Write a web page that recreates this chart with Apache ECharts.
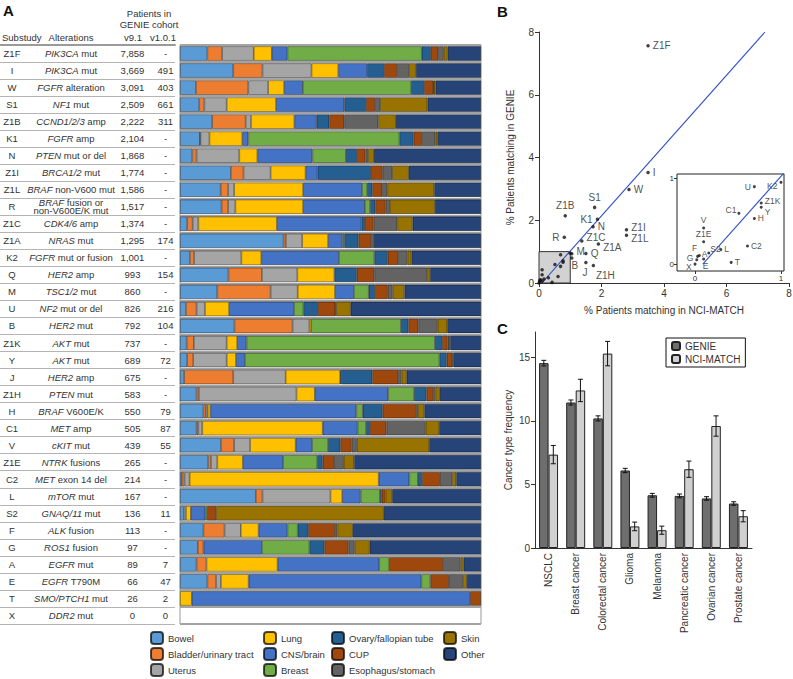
<!DOCTYPE html>
<html>
<head>
<meta charset="utf-8">
<script src="https://cdn.jsdelivr.net/npm/echarts@6/dist/echarts.min.js"></script>
<style>
  html, body { margin: 0; padding: 0; background: #fff; }
  #chart { width: 793px; height: 679px; }
</style>
</head>
<body>
<div id="chart"></div>
<script>
// ---- panel A: substudies ----
var substudies = ['Z1F', 'I', 'W', 'S1', 'Z1B', 'K1', 'N', 'Z1I', 'Z1L', 'R', 'Z1C', 'Z1A', 'K2', 'Q', 'M', 'U', 'B',
  'Z1K', 'Y', 'J', 'Z1H', 'H', 'C1', 'V', 'Z1E', 'C2', 'L', 'S2', 'F', 'G', 'A', 'E', 'T', 'X'];
var alterations = ['{i|PIK3CA} mut', '{i|PIK3CA} mut', '{i|FGFR} alteration', '{i|NF1} mut', '{i|CCND1/2/3} amp',
  '{i|FGFR} amp', '{i|PTEN} mut or del', '{i|BRCA1/2} mut', '{i|BRAF} non-V600 mut', '{i|BRAF} fusion or\nnon-V600E/K mut',
  '{i|CDK4/6} amp', '{i|NRAS} mut', '{i|FGFR} mut or fusion', '{i|HER2} amp', '{i|TSC1/2} mut', '{i|NF2} mut or del',
  '{i|HER2} mut', '{i|AKT} mut', '{i|AKT} mut', '{i|HER2} amp', '{i|PTEN} mut', '{i|BRAF} V600E/K', '{i|MET} amp',
  '{i|cKIT} mut', '{i|NTRK} fusions', '{i|MET} exon 14 del', '{i|mTOR} mut', '{i|GNAQ/11} mut', '{i|ALK} fusion',
  '{i|ROS1} fusion', '{i|EGFR} mut', '{i|EGFR} T790M', '{i|SMO/PTCH1} mut', '{i|DDR2} mut'];
var patientsV91 = [7858, 3669, 3091, 2509, 2222, 2104, 1868, 1774, 1586, 1517, 1374, 1295, 1001, 993, 860, 826, 792,
  737, 689, 675, 583, 550, 505, 439, 265, 214, 167, 136, 113, 97, 89, 66, 26, 0];
var patientsV101 = ['-', 491, 403, 661, 311, '-', '-', '-', '-', '-', '-', 174, '-', 154, '-', 216, 104,
  '-', 72, '-', '-', 79, 87, 55, '-', '-', '-', 11, '-', '-', 7, 47, 2, 0];

// tumour type share (% of matched patients), one array per tissue, rows in substudy order
var tissues = ['Bowel', 'Bladder/urinary tract', 'Uterus', 'Lung', 'CNS/brain', 'Breast',
  'Ovary/fallopian tube', 'CUP', 'Esophagus/stomach', 'Skin', 'Other'];
var bowel = [9.1, 17.7, 5.3, 6.4, 10.7, 6.6, 4.1, 16.9, 13.5, 13.8, 2.4, 34.4, 3.3, 16.1, 12.4, 2.0, 18.1, 2.2, 2.4, 1.4, 5.5, 7.8, 5.5, 13.6, 9.4, 0.6, 25.2, 1.3, 7.8, 5.9, 5.5, 9.1, 0, 0];
var bladder = [4.9, 9.7, 17.4, 1.7, 11.1, 0.2, 1.4, 4.2, 2.5, 2.2, 1.8, 0.8, 1.4, 11.1, 17.7, 3.5, 19.3, 2.4, 2.0, 16.3, 0.8, 0.8, 0.6, 4.4, 0.9, 0.9, 2.2, 0, 7.0, 1.9, 3.3, 2.9, 0, 0];
var uterus = [10.5, 16.3, 6.6, 7.4, 1.8, 3.0, 14.2, 9.0, 2.0, 2.4, 1.9, 5.4, 15.7, 11.8, 9.0, 2.8, 5.6, 10.9, 11.1, 17.4, 32.4, 0.6, 1.3, 5.3, 2.1, 1.7, 22.6, 0.7, 5.4, 0, 0, 1.6, 0, 0];
var lung = [6.0, 8.9, 5.3, 16.4, 14.4, 10.9, 6.0, 11.6, 22.9, 22.5, 26.1, 8.6, 6.6, 12.3, 12.4, 8.0, 0.6, 3.5, 3.1, 18.1, 6.1, 0.9, 40.0, 15.1, 8.5, 62.8, 3.9, 1.6, 5.9, 0, 23.6, 9.2, 3.9, 0];
var cns = [5.2, 9.6, 6.2, 22.7, 7.4, 2.0, 18.3, 4.0, 19.6, 20.5, 28.1, 4.8, 25.8, 0, 6.3, 21.6, 0, 3.1, 3.0, 0.3, 24.4, 48.5, 11.6, 5.5, 13.4, 10.2, 6.1, 4.8, 9.6, 19.4, 33.8, 57.4, 92.5, 0];
var breast = [44.6, 0, 36.0, 0, 0, 50.2, 11.1, 0, 1.7, 1.8, 0, 0.6, 11.8, 0, 4.9, 3.1, 29.8, 62.6, 64.6, 0, 8.6, 2.1, 2.8, 5.3, 11.3, 2.8, 6.4, 0.6, 3.4, 15.8, 3.3, 3.0, 0, 0];
var ovary = [3.0, 5.6, 4.3, 7.2, 4.2, 4.7, 3.7, 17.7, 1.7, 1.7, 1.1, 4.7, 4.4, 7.4, 2.1, 4.8, 2.5, 2.4, 2.4, 10.4, 4.1, 6.6, 1.3, 4.1, 1.8, 1.4, 0.6, 0, 3.5, 5.0, 0, 0, 0, 0];
var cup = [2.5, 4.3, 3.0, 3.0, 5.0, 2.8, 2.8, 3.9, 3.3, 3.4, 2.9, 4.2, 3.5, 5.9, 4.2, 5.8, 3.3, 1.8, 1.9, 8.6, 2.2, 11.1, 5.5, 3.7, 3.7, 5.9, 1.3, 3.0, 8.9, 8.0, 17.9, 6.1, 3.6, 0];
var esophagus = [1.8, 4.0, 0.2, 1.7, 11.3, 4.4, 0.9, 3.2, 1.7, 1.4, 7.9, 0.9, 3.1, 17.4, 1.6, 0.3, 6.4, 0.6, 0, 1.1, 0.8, 0.6, 13.0, 1.7, 3.3, 4.1, 0, 0, 0.8, 2.0, 5.8, 4.7, 0, 0];
var skin = [1.3, 2.3, 0.6, 15.7, 5.8, 0.7, 1.9, 5.5, 15.6, 15.0, 5.1, 0, 1.3, 1.1, 4.0, 4.8, 3.2, 0.3, 0.3, 1.7, 1.4, 2.2, 4.5, 24.1, 3.5, 1.4, 2.2, 55.7, 5.1, 5.0, 1.0, 1.3, 0, 0];
var other = [11.1, 21.6, 15.1, 17.8, 28.3, 14.5, 35.6, 24.0, 15.5, 15.3, 22.7, 35.6, 23.1, 16.9, 25.4, 43.3, 11.2, 10.2, 9.2, 24.7, 13.7, 18.8, 13.9, 17.2, 42.1, 8.2, 29.5, 32.3, 42.6, 37.0, 5.8, 4.7, 0, 0];

// ---- panel B: % patients matching, same order as substudies ----
var matchNci = [3.49, 3.49, 2.88, 1.78, 0.84, 1.87, 1.73, 2.80, 2.80, 0.81, 1.37, 1.90, 1.00, 1.50, 1.05, 0.69, 1.05,
  0.77, 0.77, 1.50, 1.74, 0.69, 0.51, 0.10, 0.10, 0.61, 0.30, 0.16, 0.03, 0.02, 0.05, 0.10, 0.42, 0];
var matchGenie = [7.56, 3.52, 2.98, 2.41, 2.14, 2.03, 1.79, 1.70, 1.52, 1.46, 1.34, 1.24, 0.95, 0.94, 0.93, 0.90, 0.80,
  0.71, 0.66, 0.65, 0.56, 0.53, 0.59, 0.42, 0.26, 0.21, 0.17, 0.13, 0.09, 0.05, 0.10, 0.06, 0.02, 0];
var fitX = [0.09, 7.23];
var fitY = [0, 8];

// ---- panel C: cancer type frequency ----
var cancers = ['NSCLC', 'Breast cancer', 'Colorectal cancer', 'Glioma', 'Melanoma', 'Pancreatic cancer', 'Ovarian cancer', 'Prostate cancer'];
var genieFreq = [14.55, 11.45, 10.2, 6.1, 4.15, 4.1, 3.9, 3.5];
var genieErr = [0.22, 0.2, 0.2, 0.17, 0.15, 0.15, 0.14, 0.14];
var nciFreq = [7.35, 12.4, 15.3, 1.7, 1.4, 6.2, 9.6, 2.5];
var nciErr = [0.72, 0.88, 0.96, 0.34, 0.32, 0.64, 0.8, 0.44];

var FONT = 'Liberation Sans, Arial, sans-serif';
var TXT = '#333';
var tissueColors = ['#5b9bd5', '#ed7d31', '#a5a5a5', '#ffc000', '#4472c4', '#70ad47',
  '#255e91', '#9e480e', '#636363', '#997300', '#264478'];
var tissueValues = [bowel, bladder, uterus, lung, cns, breast, ovary, cup, esophagus, skin, other];
// legend slots: column x, row y (layout only)
var legendColX = [150, 263, 331, 443];
var legendRowY = [631, 647, 663];

// label placement for panel B (style only)
var mainLabelPos = {
  Z1F: ['right'], I: ['right'], W: ['right'], S1: ['top'], Z1B: ['top', [0, -1]], K1: ['left'],
  N: ['right'], Z1I: ['right', [0, -2]], Z1L: ['right', [0, 3]], R: ['left'], Z1C: ['right', [0, -3]], Z1A: ['right', [0, 3]],
  Q: ['right'], M: ['right', [0, -2]], J: ['bottom', [-1, 0]], Z1H: ['bottom', [12, 0]], B: ['bottom', [3, -2]]
};
var insetLabelPos = {
  K2: ['left', [0, 4]], U: ['left'], Z1K: ['right', [0, -2]], Y: ['right', [0, 5]], C1: ['left', [1, -3]], H: ['right'],
  V: ['top'], Z1E: ['top'], S2: ['right', [-2, -4]], L: ['right'], C2: ['right'], F: ['top', [-3, 0]],
  A: ['right', [-1, -2]], G: ['left', [0, -2]], E: ['bottom', [2, -1]], T: ['right'], X: ['left', [0, 3]]
};

function fmtThousands(n) {
  return String(n).replace(/\B(?=(\d{3})+(?!\d))/g, ',');
}

var chart = echarts.init(document.getElementById('chart'), null, { renderer: 'svg' });

var series = [];
tissues.forEach(function (name, k) {
  series.push({
    name: name,
    type: 'bar',
    stack: 'tissue',
    xAxisIndex: 1,
    yAxisIndex: 1,
    barCategoryGap: '15%',
    itemStyle: { color: tissueColors[k], borderColor: 'rgba(0,0,0,0.7)', borderWidth: 0.6 },
    data: tissueValues[k].map(function (v) { return v === 0 ? '-' : v; })
  });
});

function pointItems(posMap, labelSize) {
  return substudies.map(function (s, i) {
    var item = { name: s, value: [matchNci[i], matchGenie[i]] };
    var p = posMap[s];
    if (p) {
      item.label = { show: true, position: p[0], offset: p[1] || [0, 0], fontSize: labelSize };
    }
    return item;
  });
}

series.push({
  type: 'scatter',
  xAxisIndex: 2,
  yAxisIndex: 5,
  symbolSize: 3.5,
  itemStyle: { color: '#111' },
  label: { show: false, formatter: '{b}', color: '#222', fontFamily: FONT, distance: 3 },
  data: pointItems(mainLabelPos, 10),
  markArea: {
    silent: true,
    itemStyle: { color: '#d2d2d2', borderColor: '#333', borderWidth: 1 },
    data: [[{ coord: [0, 0] }, { coord: [1, 1] }]]
  },
  z: 3
});
series.push({
  type: 'line',
  xAxisIndex: 2,
  yAxisIndex: 5,
  symbol: 'none',
  lineStyle: { color: '#3152c4', width: 1.1 },
  data: fitX.map(function (x, i) { return [x, fitY[i]]; }),
  z: 2
});
// inset
series.push({
  type: 'line',
  xAxisIndex: 3,
  yAxisIndex: 6,
  symbol: 'none',
  clip: true,
  lineStyle: { color: '#3152c4', width: 1.1 },
  data: fitX.map(function (x, i) { return [x, fitY[i]]; })
});
series.push({
  type: 'scatter',
  xAxisIndex: 3,
  yAxisIndex: 6,
  symbolSize: 3,
  clip: true,
  itemStyle: { color: '#111' },
  label: { show: false, formatter: '{b}', color: '#222', fontFamily: FONT, distance: 2 },
  data: pointItems(insetLabelPos, 8.5)
});

// panel C bars
series.push({
  name: 'GENIE', type: 'bar', xAxisIndex: 4, yAxisIndex: 7,
  barGap: '0%', barCategoryGap: '30%',
  itemStyle: { color: '#6e6e6e', borderColor: '#222', borderWidth: 1 },
  data: genieFreq
});
series.push({
  name: 'NCI-MATCH', type: 'bar', xAxisIndex: 4, yAxisIndex: 7,
  barGap: '0%', barCategoryGap: '30%',
  itemStyle: { color: '#d0d0d0', borderColor: '#222', borderWidth: 1 },
  data: nciFreq
});

function errorBars(side) {
  return function (params, api) {
    var i = api.value(0), v = api.value(1), e = api.value(2);
    var band = api.size([1, 0])[0];
    var dx = side * band * 0.7 / 4;
    var hi = api.coord([i, v + e]);
    var lo = api.coord([i, v - e]);
    var x = hi[0] + dx, cap = 2.5;
    var st = { stroke: '#111', lineWidth: 1 };
    return {
      type: 'group',
      children: [
        { type: 'line', shape: { x1: x, y1: hi[1], x2: x, y2: lo[1] }, style: st },
        { type: 'line', shape: { x1: x - cap, y1: hi[1], x2: x + cap, y2: hi[1] }, style: st },
        { type: 'line', shape: { x1: x - cap, y1: lo[1], x2: x + cap, y2: lo[1] }, style: st }
      ]
    };
  };
}
series.push({
  type: 'custom', xAxisIndex: 4, yAxisIndex: 7, z: 5,
  renderItem: errorBars(-1),
  data: genieFreq.map(function (v, i) { return [i, v, genieErr[i]]; })
});
series.push({
  type: 'custom', xAxisIndex: 4, yAxisIndex: 7, z: 5,
  renderItem: errorBars(1),
  data: nciFreq.map(function (v, i) { return [i, v, nciErr[i]]; })
});

var labelBase = { fontFamily: FONT, color: TXT, fontSize: 9.5 };

function tableAxis(margin, formatter, extra) {
  var ax = {
    type: 'category', gridIndex: 1, position: 'left', inverse: true, data: substudies,
    axisLine: { show: false }, axisTick: { show: false }, splitLine: { show: false },
    axisLabel: Object.assign({ interval: 0, margin: margin, align: 'center', formatter: formatter }, labelBase)
  };
  if (extra) Object.assign(ax.axisLabel, extra);
  return ax;
}

// one legend per tissue so the 4 x 3 block keeps its exact slots
var legends = tissues.map(function (name, k) {
  return {
    left: legendColX[Math.floor(k / 3)], top: legendRowY[k % 3], padding: 0,
    data: [name], itemWidth: 12, itemHeight: 12, selectedMode: false,
    textStyle: { fontFamily: FONT, fontSize: 9.5, color: TXT }
  };
});
legends.push({
  left: 666, top: 338, orient: 'vertical', data: ['GENIE', 'NCI-MATCH'],
  itemWidth: 8, itemHeight: 8, itemGap: 3, selectedMode: false,
  borderColor: '#111', borderWidth: 1, padding: [3, 5, 3, 5],
  textStyle: { fontFamily: FONT, fontSize: 10, color: TXT }
});

function headText(x, y, text, align, extra) {
  return {
    type: 'text', x: x, y: y,
    style: Object.assign({
      text: text, align: align || 'center', verticalAlign: 'middle',
      textAlign: align || 'center', textVerticalAlign: 'middle',
      fontFamily: FONT, fontSize: 9.5, fill: TXT
    }, extra || {})
  };
}

var axisText = { fontFamily: FONT, fontSize: 10, color: TXT };
var darkLine = { show: true, lineStyle: { color: '#333', width: 1 } };

chart.setOption({
  animation: false,
  backgroundColor: '#fff',
  textStyle: { fontFamily: FONT },
  grid: [
    { left: 0, top: 45, width: 175, height: 579, outerBoundsMode: 'none' },
    { left: 180, top: 45, width: 301, height: 579, show: true, borderColor: '#999', borderWidth: 1, outerBoundsMode: 'none' },
    { left: 539, top: 32, width: 250, height: 251, outerBoundsMode: 'none' },
    { left: 677, top: 174, width: 107, height: 97, show: true, borderColor: '#222', borderWidth: 1, backgroundColor: '#fff', outerBoundsMode: 'none' },
    { left: 535, top: 332, width: 217, height: 216, outerBoundsMode: 'none' }
  ],
  xAxis: [
    { type: 'value', gridIndex: 0, min: 0, max: 1, position: 'top',
      axisLine: { show: true, onZero: false, lineStyle: { color: '#9a9a9a', width: 2 } },
      axisTick: { show: false }, axisLabel: { show: false }, splitLine: { show: false } },
    { type: 'value', gridIndex: 1, min: 0, max: 100, show: false },
    { type: 'value', gridIndex: 2, min: 0, max: 8, interval: 2,
      name: '% Patients matching in NCI-MATCH', nameLocation: 'middle', nameGap: 22,
      nameTextStyle: axisText,
      axisLine: darkLine, axisTick: { show: true, length: 4, lineStyle: { color: '#333' } },
      axisLabel: Object.assign({ margin: 5 }, axisText), splitLine: { show: false } },
    { type: 'value', gridIndex: 3, min: -0.21, max: 1.035,
      axisLine: { show: false, onZero: false },
      axisTick: { show: true, length: 3, customValues: [0, 1], lineStyle: { color: '#333' } },
      axisLabel: { customValues: [0, 1], margin: 3, fontFamily: FONT, fontSize: 8, color: TXT },
      splitLine: { show: false } },
    { type: 'category', gridIndex: 4, data: cancers,
      axisLine: darkLine, axisTick: { show: false },
      axisLabel: Object.assign({ interval: 0, rotate: 90, margin: 5 }, axisText) }
  ],
  yAxis: [
    { type: 'category', gridIndex: 0, inverse: true, data: substudies,
      axisLine: { show: false }, axisTick: { show: false }, axisLabel: { show: false },
      splitLine: { show: true, interval: 0, lineStyle: { color: '#b4b4b4', width: 1.2 } } },
    { type: 'category', gridIndex: 1, position: 'left', inverse: true, data: substudies,
      axisLine: { show: false }, axisTick: { show: false },
      splitLine: { show: true, interval: 0, lineStyle: { color: '#a3a3a3', width: 2 } },
      axisLabel: Object.assign({ interval: 0, margin: 168, align: 'center' }, labelBase) },
    tableAxis(109, function (v, i) { return alterations[i]; }, {
      lineHeight: 8,
      rich: { i: { fontStyle: 'italic', fontFamily: FONT, fontSize: 9.5, color: TXT, lineHeight: 8 } }
    }),
    tableAxis(47.5, function (v, i) { return fmtThousands(patientsV91[i]); }),
    tableAxis(14.5, function (v, i) { return String(patientsV101[i]); }),
    { type: 'value', gridIndex: 2, min: 0, max: 8, interval: 2,
      name: '% Patients matching in GENIE', nameLocation: 'middle', nameGap: 24,
      nameTextStyle: axisText,
      axisLine: darkLine, axisTick: { show: true, length: 4, lineStyle: { color: '#333' } },
      axisLabel: Object.assign({ margin: 5 }, axisText), splitLine: { show: false } },
    { type: 'value', gridIndex: 3, min: -0.08, max: 1.047,
      axisLine: { show: false, onZero: false },
      axisTick: { show: true, length: 3, customValues: [0, 1], lineStyle: { color: '#333' } },
      axisLabel: { customValues: [0, 1], margin: 3, fontFamily: FONT, fontSize: 8, color: TXT },
      splitLine: { show: false } },
    { type: 'value', gridIndex: 4, min: 0, max: 17,
      name: 'Cancer type frequency', nameLocation: 'middle', nameGap: 22,
      nameTextStyle: axisText,
      axisLine: darkLine,
      axisTick: { show: true, length: 4, customValues: [0, 5, 10, 15], lineStyle: { color: '#333' } },
      axisLabel: Object.assign({ margin: 5, customValues: [0, 5, 10, 15] }, axisText),
      splitLine: { show: false } }
  ],
  legend: legends,
  graphic: [
    headText(3, 10, 'A', 'left', { fontSize: 15, fontWeight: 'bold', fill: '#111' }),
    headText(497, 11, 'B', 'left', { fontSize: 15, fontWeight: 'bold', fill: '#111' }),
    headText(497, 328, 'C', 'left', { fontSize: 15, fontWeight: 'bold', fill: '#111' }),
    headText(149, 13, 'Patients in'),
    headText(149, 24, 'GENIE cohort'),
    headText(2, 37, 'Substudy', 'left'),
    headText(71, 37, 'Alterations'),
    headText(133, 37, 'v9.1'),
    headText(163, 37, 'v1.0.1')
  ],
  series: series
});
</script>
</body>
</html>
